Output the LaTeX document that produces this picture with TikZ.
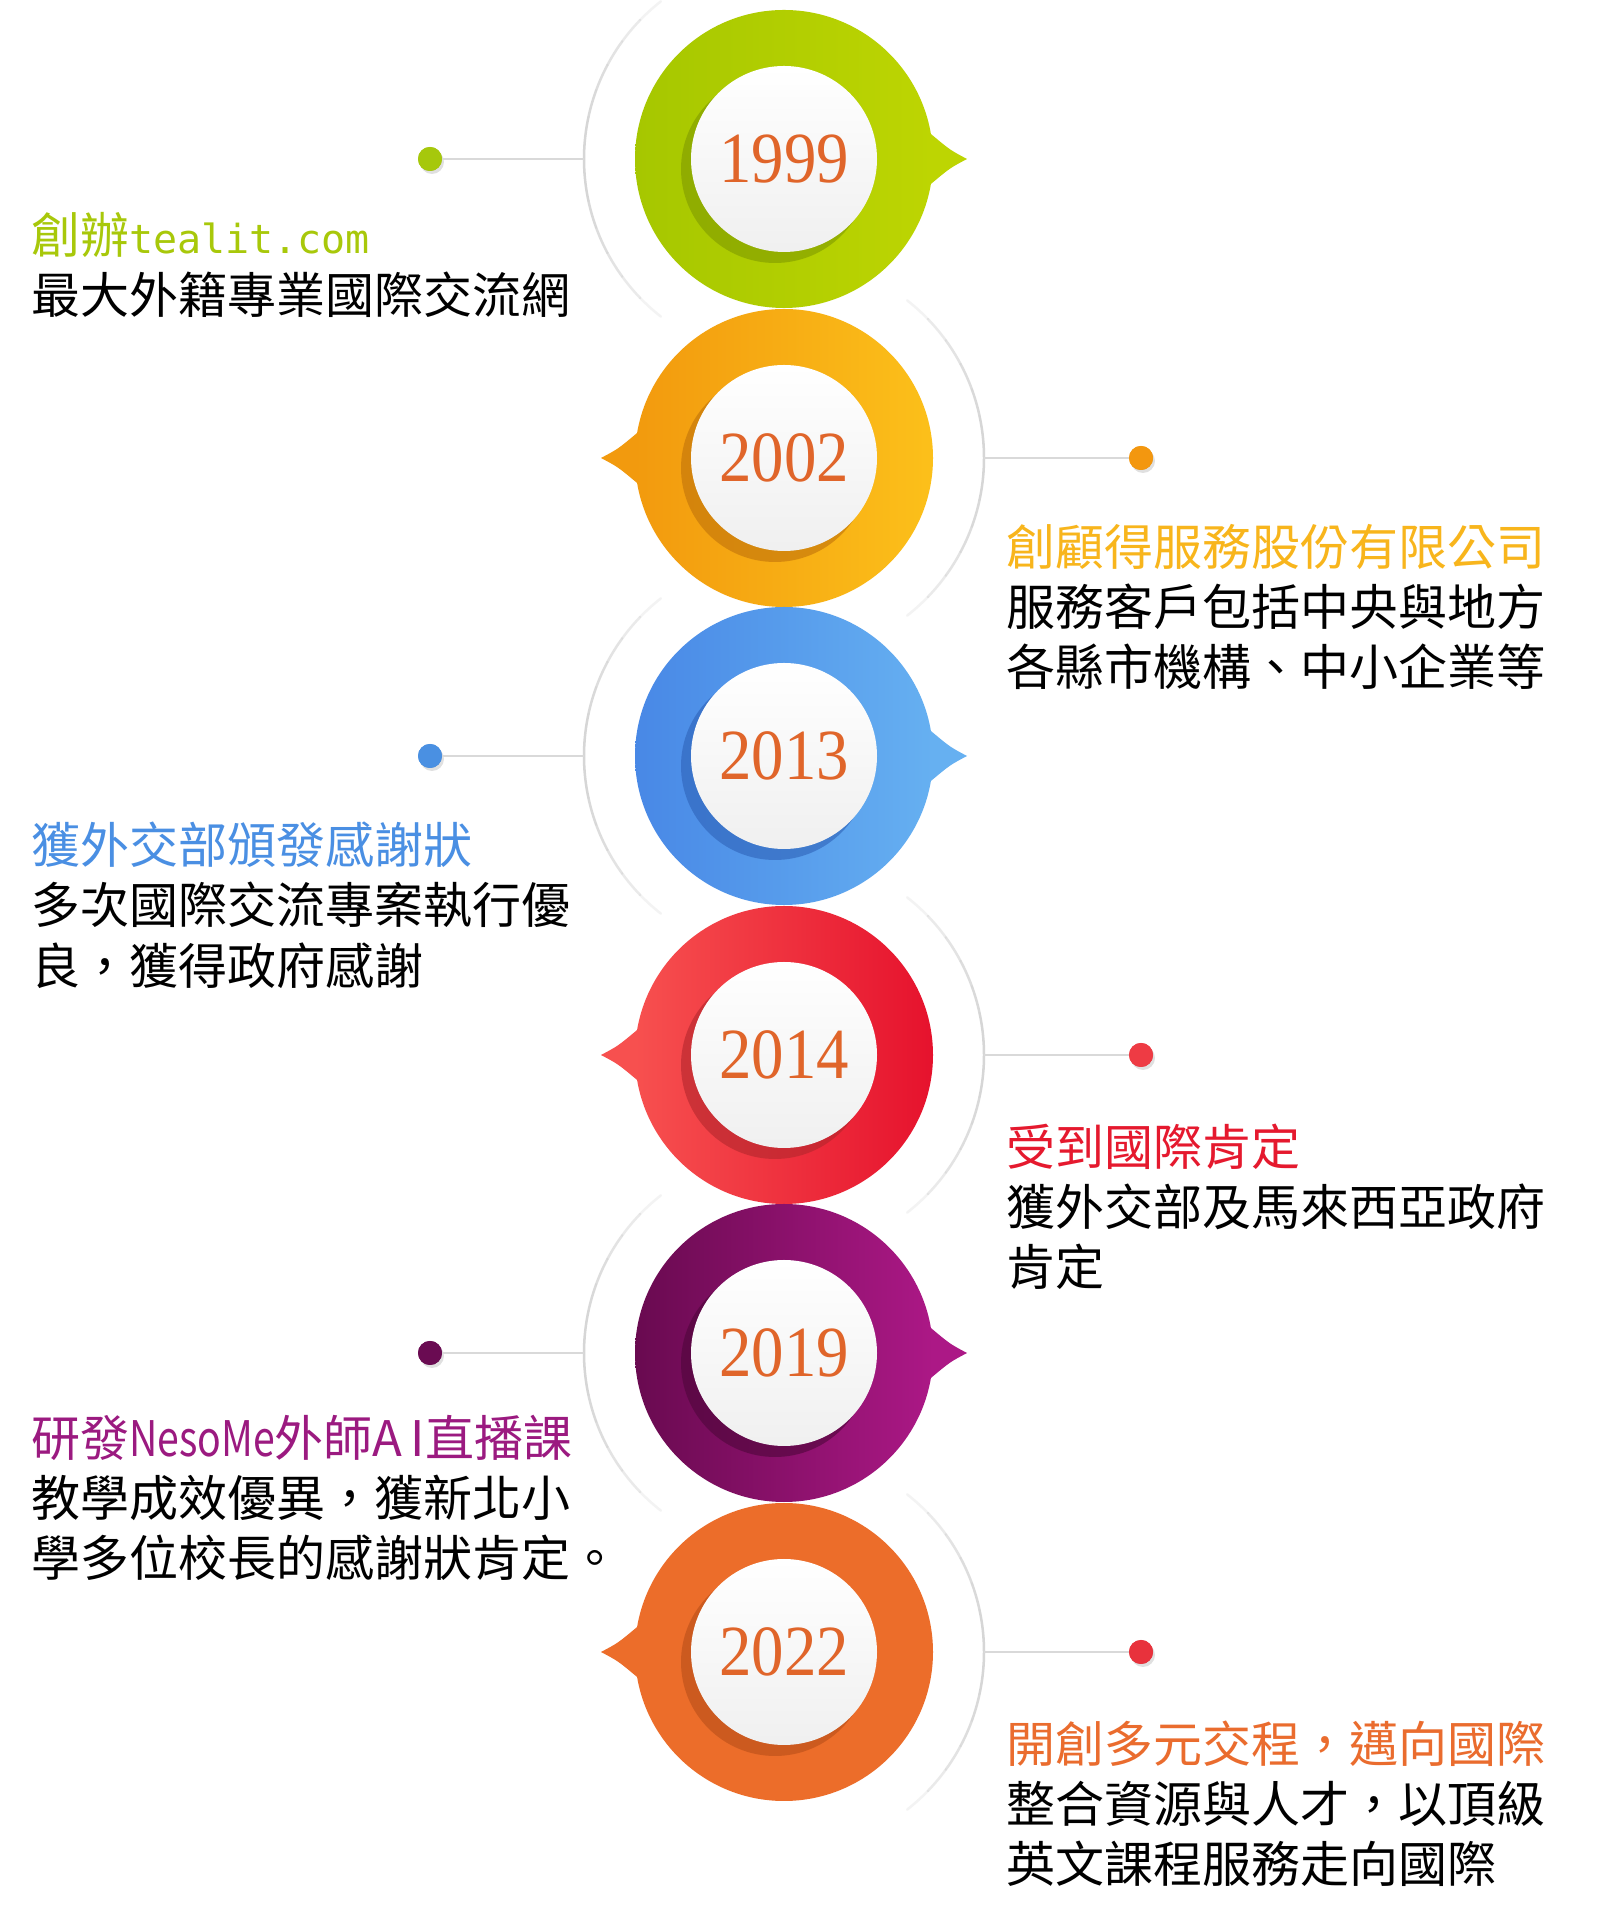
\documentclass[tikz,border=0pt]{standalone}
\usepackage{fontspec}
\usepackage{graphicx}
\setmainfont{Noto Sans CJK TC}
\newfontfamily\yearfont{Liberation Serif}
\newfontfamily\monofont{DejaVu Sans Mono}
\usetikzlibrary{positioning}

\definecolor{c1999L}{HTML}{A6C700}\definecolor{c1999R}{HTML}{BDD502}\definecolor{c1999S}{HTML}{7F9A00}
\definecolor{c1999T}{HTML}{A8C80A}\definecolor{c1999D}{HTML}{A6C80C}
\definecolor{c2002L}{HTML}{F29A0E}\definecolor{c2002R}{HTML}{FCC01A}\definecolor{c2002S}{HTML}{C0720A}
\definecolor{c2002T}{HTML}{F8B51C}\definecolor{c2002D}{HTML}{F3970F}
\definecolor{c2013L}{HTML}{4888E6}\definecolor{c2013R}{HTML}{66B0F1}\definecolor{c2013S}{HTML}{2E62B8}
\definecolor{c2013T}{HTML}{4A8FE3}\definecolor{c2013D}{HTML}{4A90E2}
\definecolor{c2014L}{HTML}{F7504F}\definecolor{c2014R}{HTML}{E6122D}\definecolor{c2014S}{HTML}{B2262C}
\definecolor{c2014T}{HTML}{E5192E}\definecolor{c2014D}{HTML}{EE3B44}
\definecolor{c2019L}{HTML}{690A50}\definecolor{c2019R}{HTML}{AC1886}\definecolor{c2019S}{HTML}{4E063A}
\definecolor{c2019T}{HTML}{9B1A80}\definecolor{c2019D}{HTML}{6A0B52}
\definecolor{c2022L}{HTML}{EC6D2A}\definecolor{c2022R}{HTML}{EC6D2A}\definecolor{c2022S}{HTML}{B84E18}
\definecolor{c2022T}{HTML}{EA6C2E}\definecolor{c2022D}{HTML}{E8323C}
\definecolor{yeartext}{HTML}{E0652A}

\begin{document}
\begin{tikzpicture}[
  x=1pt, y=1pt,
  disc/.style={circle, minimum size=298pt, inner sep=0pt},
  face/.style={circle, minimum size=186pt, inner sep=0pt, top color=white, bottom color=gray!12, text=yeartext, font=\yearfont\fontsize{72}{72}\selectfont},
  dot/.style={circle, minimum size=24pt, inner sep=0pt},
  link/.style={draw=gray!30, line width=2.5pt},
  ring/.style={draw=gray!32, line width=2.5pt},
  title/.style={anchor=base west, inner sep=0pt, font=\fontsize{49}{59}\selectfont},
  body/.style={anchor=north west, inner sep=0pt, align=left, font=\fontsize{49}{59}\selectfont}
]
\fill[white] (0,0) rectangle (1617,1920);
\useasboundingbox (0,0) rectangle (1617,1920);

\foreach \yr/\cy/\s/\xd in {1999/1761/-1/430, 2002/1462/1/1141, 2013/1164/-1/430, 2014/865/1/1141, 2019/567/-1/430, 2022/268/1/1141}{
  \pgfmathsetmacro\am{90-90*\s}
  \ifnum\s<0 \def\pc{c\yr R}\else\def\pc{c\yr L}\fi
  \coordinate (c\yr) at (784,\cy);
  \coordinate (a\yr) at ([xshift=\s*200pt]c\yr);
  \foreach \k in {0,...,12}{
    \pgfmathsetmacro\op{1-0.85*((\k-6)/6.5)^2}
    \draw[ring, opacity=\op, line cap=round] ([shift={(\am-52+\k*8:200)}]c\yr) arc[start angle=\am-52+\k*8, end angle=\am-44+\k*8, radius=200pt];
  }
  \node[dot, fill=c\yr D] (d\yr) at (\xd,\cy) {};
  \fill[black, opacity=.12] ([shift={(2,-3)}]d\yr.center) circle[radius=12];
  \node[dot, fill=c\yr D] at (d\yr) {};
  \draw[link] (a\yr) -- (d\yr);
  \fill[\pc] ([shift={(-\s*146.9,25)}]c\yr) .. controls ([shift={(-\s*166,9)}]c\yr) .. ([shift={(-\s*183,0)}]c\yr)
    .. controls ([shift={(-\s*166,-9)}]c\yr) .. ([shift={(-\s*146.9,-25)}]c\yr) -- cycle;
  \node[disc, left color=c\yr L, right color=c\yr R] (p\yr) at (c\yr) {};
  \fill[c\yr S, opacity=.6] ([shift={(-9,-10)}]c\yr) circle[radius=94];
  \node[face] (f\yr) at (c\yr) {\scalebox{.9}[1]{\yr}};
}

\node[title, text=c1999T] (t1999) at (31,1666) {\strut 創辦{\monofont\fontsize{40}{59}\selectfont tealit.com}};
\node[body] (b1999) at (t1999.south west) {\strut 最大外籍專業國際交流網};

\node[title, text=c2002T] (t2002) at (1006,1354) {\strut 創顧得服務股份有限公司};
\node[body] (b2002) at (t2002.south west) {\strut 服務客戶包括中央與地方\\各縣市機構、中小企業等};

\node[title, text=c2013T] (t2013) at (31,1056) {\strut 獲外交部頒發感謝狀};
\node[body] (b2013) at (t2013.south west) {\strut 多次國際交流專案執行優\\良，獲得政府感謝};

\node[title, text=c2014T] (t2014) at (1006,754) {\strut 受到國際肯定};
\node[body] (b2014) at (t2014.south west) {\strut 獲外交部及馬來西亞政府\\肯定};

\node[title, text=c2019T] (t2019) at (31,463) {\strut 研發\scalebox{.8}[1]{NesoMe}外師A\,I直播課};
\node[body] (b2019) at (t2019.south west) {\strut 教學成效優異，獲新北小\\學多位校長的感謝狀肯定。};

\node[title, text=c2022T] (t2022) at (1006,157) {\strut 開創多元交程，邁向國際};
\node[body] (b2022) at (t2022.south west) {\strut 整合資源與人才，以頂級\\英文課程服務走向國際};
\end{tikzpicture}
\end{document}
